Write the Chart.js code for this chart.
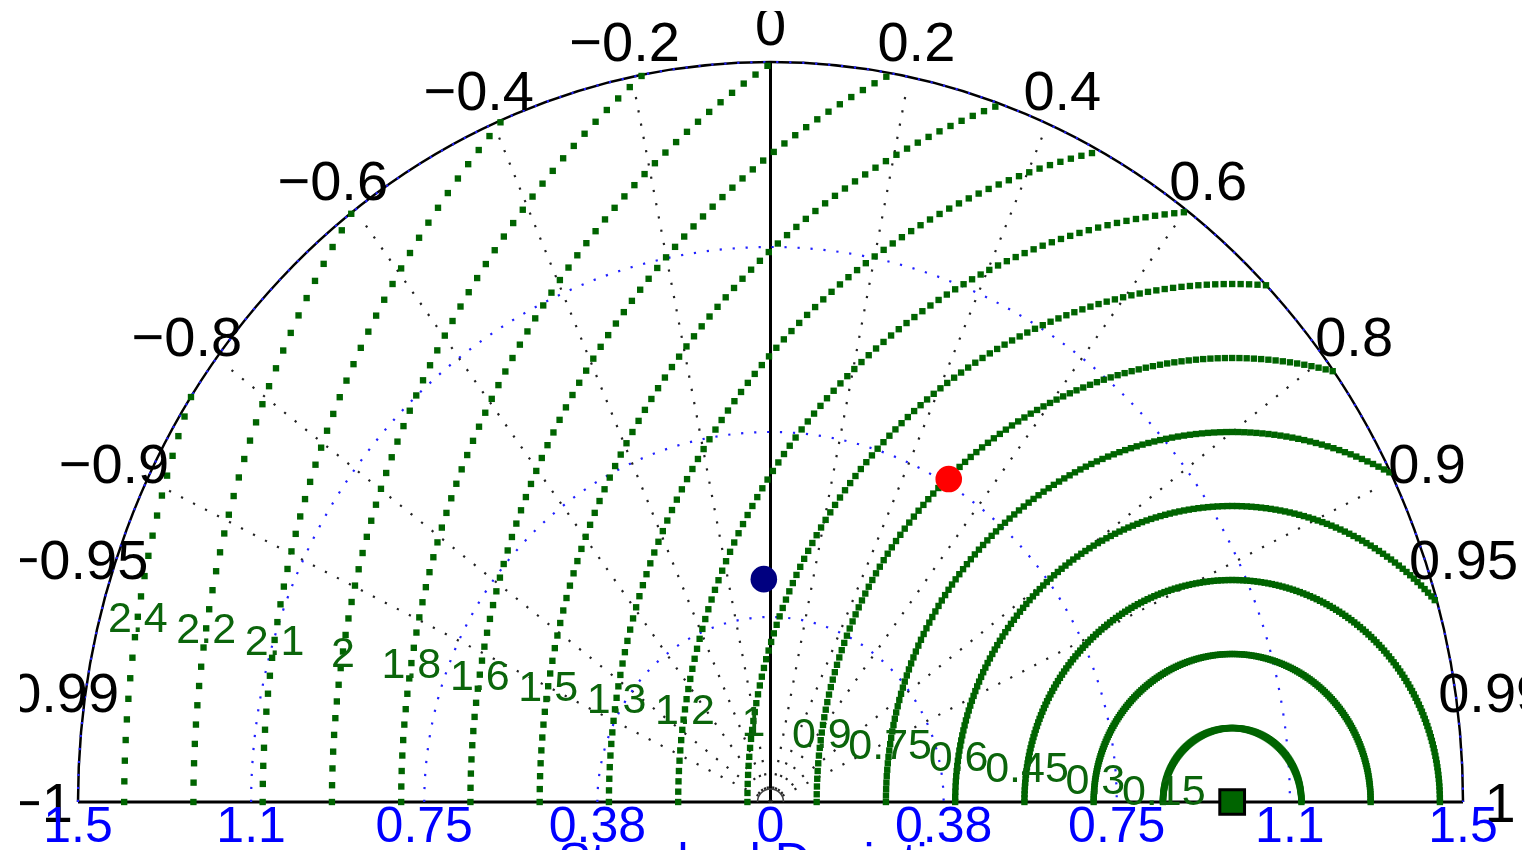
<!DOCTYPE html>
<html>
<head>
<meta charset="utf-8">
<script src="https://cdn.jsdelivr.net/npm/chart.js@4.4.0/dist/chart.umd.min.js"></script>
<style>
  html, body { margin: 0; padding: 0; background: #fff; }
  canvas { display: block; }
</style>
</head>
<body>
<canvas id="taylor" width="1540" height="850"></canvas>
<script>
// normalised statistics, first entry is the reference
const modelNames = ['Reference', 'Model 1', 'Model 2'];
const stdDevs = [1.0, 0.76, 0.452];
const corrCoefs = [1.0, 0.508, -0.032];
const modelColors = ['#006400', '#ff0000', '#000080'];

// axes
const maxStd = 1.5;
const stdTicks = [-1.5, -1.125, -0.75, -0.375, 0, 0.375, 0.75, 1.125, 1.5];
const stdTickLabels = ['1.5', '1.1', '0.75', '0.38', '0', '0.38', '0.75', '1.1', '1.5'];
const stdCircles = [0.375, 0.75, 1.125, 1.5];
const corrTicks = [-1, -0.99, -0.95, -0.9, -0.8, -0.6, -0.4, -0.2, 0, 0.2, 0.4, 0.6, 0.8, 0.9, 0.95, 0.99, 1];
const corrGridLines = [-0.9, -0.8, -0.6, -0.4, -0.2, 0.2, 0.4, 0.6, 0.8, 0.9];
const rmsLevels = [0.15, 0.3, 0.45, 0.6, 0.75, 0.9, 1.05, 1.2, 1.35, 1.5, 1.65, 1.8, 1.95, 2.1, 2.25, 2.4];
const rmsLabels = ['0.15', '0.3', '0.45', '0.6', '0.75', '0.9', '1', '1.2', '1.3', '1.5', '1.6', '1.8', '2', '2.1', '2.2', '2.4'];

const FONT = "'Liberation Sans', Arial, sans-serif";
const refStd = stdDevs[0];

function toXY(std, corr) {
    return { x: std * corr, y: std * Math.sqrt(1 - corr * corr) };
}

// RMS difference contours, one marker per degree round the reference point
function rmsContourPoints() {
    const pts = [];
    rmsLevels.forEach(r => {
        for (let deg = 0; deg <= 180; deg++) {
            const t = deg * Math.PI / 180;
            const px = refStd + r * Math.cos(t);
            const py = r * Math.sin(t);
            if (Math.hypot(px, py) <= maxStd) pts.push({ x: px, y: py });
        }
    });
    return pts;
}

const taylorGrid = {
    id: 'taylorGrid',
    beforeDatasetsDraw(chart) {
        const { ctx, scales: { x, y } } = chart;
        const ox = x.getPixelForValue(0), oy = y.getPixelForValue(0);
        const rx = v => x.getPixelForValue(v) - ox;
        const ry = v => oy - y.getPixelForValue(v);
        ctx.save();

        // solid frame: axis, outer arc, zero-correlation line
        ctx.strokeStyle = '#000';
        ctx.lineWidth = 3;
        ctx.beginPath();
        ctx.moveTo(x.getPixelForValue(-maxStd), oy);
        ctx.lineTo(x.getPixelForValue(maxStd), oy);
        ctx.stroke();
        ctx.beginPath();
        ctx.moveTo(ox, oy);
        ctx.lineTo(ox, y.getPixelForValue(maxStd));
        ctx.stroke();
        ctx.lineWidth = 2.5;
        ctx.beginPath();
        ctx.ellipse(ox, oy, rx(maxStd), ry(maxStd), 0, Math.PI, 2 * Math.PI);
        ctx.stroke();

        // small arc at the origin
        ctx.strokeStyle = '#444';
        ctx.lineWidth = 1.5;
        ctx.beginPath();
        ctx.arc(ox, oy, 13, Math.PI, 2 * Math.PI);
        ctx.stroke();

        // correlation rays
        ctx.strokeStyle = '#222';
        ctx.lineWidth = 2.2;
        ctx.setLineDash([2.2, 11.3]);
        corrGridLines.forEach(c => {
            const s = Math.sqrt(1 - c * c);
            ctx.beginPath();
            ctx.moveTo(ox, oy);
            ctx.lineTo(x.getPixelForValue(0.98 * maxStd * c), y.getPixelForValue(0.98 * maxStd * s));
            ctx.stroke();
        });

        // standard deviation circles
        ctx.strokeStyle = '#2020ff';
        ctx.lineWidth = 2.2;
        ctx.setLineDash([2.2, 10.8]);
        stdCircles.forEach(r => {
            ctx.beginPath();
            ctx.ellipse(ox, oy, rx(r), ry(r), 0, Math.PI, 2 * Math.PI);
            ctx.stroke();
        });
        ctx.restore();
    },
    afterDatasetsDraw(chart) {
        const { ctx, scales: { x, y } } = chart;
        const ox = x.getPixelForValue(0), oy = y.getPixelForValue(0);
        ctx.save();
        ctx.beginPath();
        ctx.rect(20, 11, 1502, 839);
        ctx.clip();
        ctx.textAlign = 'center';
        ctx.textBaseline = 'alphabetic';

        // correlation labels round the arc
        ctx.fillStyle = '#000';
        ctx.font = '56px ' + FONT;
        corrTicks.forEach(c => {
            const s = Math.sqrt(1 - c * c);
            const ax = x.getPixelForValue(maxStd * c) + 37 * c;
            const ay = y.getPixelForValue(maxStd * s) - 37 * s;
            const txt = (c < 0 ? '\u2212' : '') + String(Math.abs(c));
            ctx.fillText(txt, ax, ay + 20);
        });

        // standard deviation ticks
        ctx.fillStyle = '#0000ff';
        ctx.font = '50px ' + FONT;
        stdTicks.forEach((v, i) => {
            ctx.fillText(stdTickLabels[i], x.getPixelForValue(v), oy + 40);
        });
        ctx.fillText('Standard Deviation', ox, oy + 76);

        // RMS contour labels
        ctx.fillStyle = '#0b650b';
        ctx.font = '43px ' + FONT;
        const t = 171 * Math.PI / 180;
        rmsLevels.forEach((r, i) => {
            const lx = x.getPixelForValue(refStd + r * Math.cos(t));
            const ly = y.getPixelForValue(r * Math.sin(t));
            ctx.fillText(rmsLabels[i], lx, ly + 15);
        });
        ctx.restore();
    }
};

const modelSets = modelNames.map((name, i) => ({
    label: name,
    data: [toXY(stdDevs[i], corrCoefs[i])],
    pointStyle: i === 0 ? 'rect' : 'circle',
    pointRadius: i === 0 ? 17.5 : 13.3,
    pointBackgroundColor: modelColors[i],
    pointBorderColor: i === 0 ? '#000' : modelColors[i],
    pointBorderWidth: i === 0 ? 3 : 0,
    clip: false,
    order: 0
}));

new Chart(document.getElementById('taylor'), {
    type: 'scatter',
    data: {
        datasets: [
            ...modelSets,
            {
                label: 'RMSD',
                data: rmsContourPoints(),
                pointStyle: 'rect',
                pointRadius: 4.5,
                pointBackgroundColor: '#006400',
                pointBorderWidth: 0,
                clip: false,
                order: 1
            }
        ]
    },
    options: {
        responsive: false,
        animation: false,
        events: [],
        layout: { padding: { left: 78, right: 77, top: 62, bottom: 48 } },
        scales: {
            x: { type: 'linear', min: -maxStd, max: maxStd, display: false },
            y: { type: 'linear', min: 0, max: maxStd, display: false }
        },
        plugins: {
            legend: { display: false },
            tooltip: { enabled: false }
        }
    },
    plugins: [taylorGrid]
});
</script>
</body>
</html>
